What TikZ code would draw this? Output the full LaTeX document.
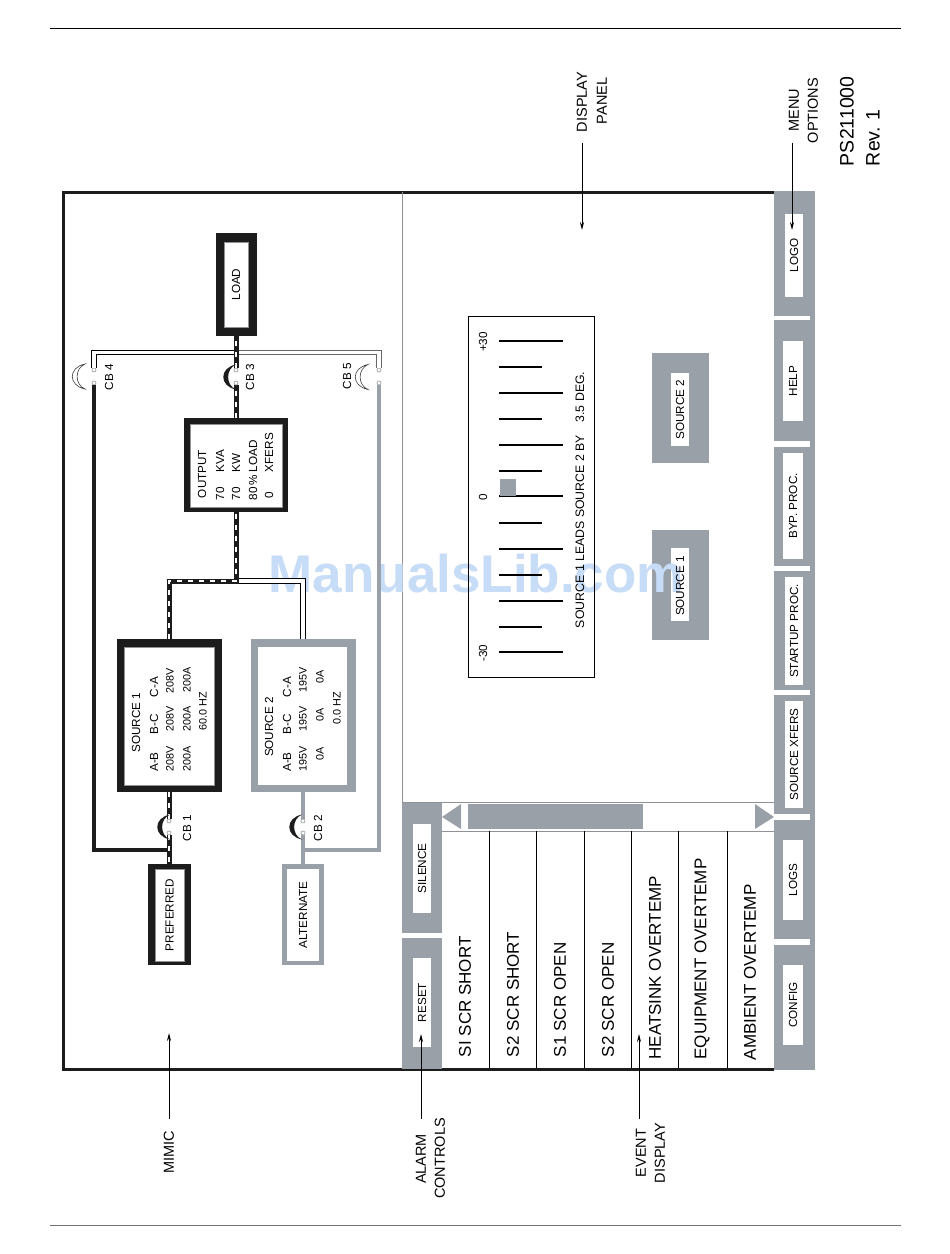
\documentclass[tikz,border=0pt]{standalone}
\usepackage{fontspec}
\setmainfont{Liberation Sans}
\usetikzlibrary{arrows.meta}
\definecolor{panelgray}{HTML}{9AA0A8}
\definecolor{nearblack}{HTML}{1C1C1C}
\definecolor{thingray}{HTML}{8E9297}
\definecolor{wmblue}{HTML}{C7DCF7}
\newcommand\fs[1]{\fontsize{#1}{#1}\selectfont}
% name, style, x0, y0, x1, y1, text: a box given by its corners, its text reading upwards
\newcommand\rectn[7]{%
  \pgfmathsetmacro\rnX{(#3+#5)/2}\pgfmathsetmacro\rnY{(#4+#6)/2}%
  \pgfmathsetmacro\rnH{#5-#3}\pgfmathsetmacro\rnV{#6-#4}%
  \node[rotate=90,inner sep=0pt,outer sep=0pt,minimum width=\rnV pt,minimum height=\rnH pt,#2] (#1) at (\rnX,\rnY) {#7};}
% tip x, centre y, style: a breaker's crescent
\newcommand\crescent[3]{%
  \path[#3] (#1,#2-12.5) .. controls (#1-17,#2-9) and (#1-17,#2+9) .. (#1,#2+12.5)
     .. controls (#1-10.5,#2+8) and (#1-10.5,#2-8) .. cycle;}
\tikzset{
  x=1pt,y=-1pt,
  tx/.style={rotate=90,inner sep=0pt,outer sep=0pt,font=\fs{11.7}},
  dat/.style={tx,font=\fs{10.8}},
  lab/.style={tx,font=\fs{14.5}},
  big/.style={tx,anchor=west,font=\fs{19.5}},
  evt/.style={tx,anchor=west,font=\fs{17}},
  panel/.style={fill=panelgray},
  btn/.style={fill=white,font=\fs{11.7}},
  blackouter/.style={fill=nearblack},
  grayouter/.style={fill=panelgray},
  innerblk/.style={fill=white,draw=thingray,line width=.7pt,font=\fs{11.7}},
  innergry/.style={fill=white,font=\fs{11.7}},
  contact/.style={circle,fill=white,draw=thingray,line width=.6pt,inner sep=0pt,outer sep=0pt,minimum size=4pt},
  bus/.style={line width=5pt,nearblack,postaction={draw,white,line width=2pt,dash pattern=on 5pt off 6pt}},
  blkline/.style={line width=4pt,nearblack},
  gryline/.style={line width=4pt,panelgray},
  dblblk/.style={draw=black,double=white,line width=1.1pt,double distance=3.2pt},
  dblgry/.style={draw=black!60,double=white,line width=1.1pt,double distance=3.2pt},
  closedcb/.style={fill=nearblack},
  opencb/.style={fill=white,draw=black!75,line width=.6pt},
  tick/.style={line width=1.8pt,black},
  pointer/.style={line width=.9pt,black,-{Stealth[length=8pt,width=4pt]}},
  rowline/.style={line width=.9pt,black},
  thin line/.style={line width=.8pt,thingray}
}
\begin{document}
\begin{tikzpicture}
\useasboundingbox[fill=white] (0,0) rectangle (950,1254);
% page rules
\coordinate (ruleTL) at (50,28.3); \coordinate (ruleTR) at (901,28.3);
\coordinate (ruleBL) at (50,1225.5); \coordinate (ruleBR) at (901,1225.5);
\draw[line width=1pt,black] (ruleTL) -- (ruleTR);
\draw[line width=1pt,black!55] (ruleBL) -- (ruleBR);
% frame and panel rules
\draw[line width=3pt,nearblack] (774,192) -- (63,192) -- (63,1069) -- (774,1069);
\draw[thin line] (402,192) -- (402,802) -- (774,802);
\draw[thin line] (442,831) -- (774,831);
% gray buttons
\rectn{strip}{panel}{810}{191}{815}{1070}{}
\rectn{logo}{panel}{774}{191}{812}{316}{}
\rectn{help}{panel}{774}{320}{812}{441}{}
\rectn{byp}{panel}{774}{447}{812}{566}{}
\rectn{startup}{panel}{774}{571}{812}{690}{}
\rectn{xfers}{panel}{774}{695}{812}{814}{}
\rectn{logs}{panel}{774}{820}{812}{939}{}
\rectn{config}{panel}{774}{945}{812}{1070}{}
\rectn{silence}{panel}{402}{803}{442}{933}{}
\rectn{reset}{panel}{402}{938}{442}{1069}{}
\rectn{src2btn}{panel}{652}{353}{709}{463}{}
\rectn{src1btn}{panel}{652}{530}{709}{640}{}
\rectn{src1btnin}{fill=white}{671}{548}{689}{621}{}
% scroll bar
\rectn{thumb}{panel}{468}{804}{643}{829}{}
\fill[panelgray] (442,817) -- (461,804) -- (461,829) -- cycle;
\fill[panelgray] (774,817) -- (755,804) -- (755,829) -- cycle;
% watermark
\node[anchor=base west,inner sep=0pt,font=\fs{53}\bfseries,text=wmblue] (wm) at (268.5,592) {ManualsLib.com};
% button faces
\rectn{logoin}{btn}{785}{214}{803}{297}{LOGO}
\rectn{helpin}{btn}{783}{341}{803}{421}{HELP}
\rectn{bypin}{btn}{783}{453}{803}{559}{BYP. PROC.}
\rectn{startupin}{btn}{785}{577}{803}{685}{STARTUP PROC.}
\rectn{xfersin}{btn}{785}{701}{803}{808}{SOURCE XFERS}
\rectn{logsin}{btn}{783}{840}{803}{920}{LOGS}
\rectn{configin}{btn}{783}{965}{803}{1045}{CONFIG}
\rectn{silencein}{btn}{413}{824}{431}{913}{SILENCE}
\rectn{resetin}{btn}{413}{958}{431}{1047}{RESET}
\rectn{src2btnin}{btn}{671}{373}{689}{446}{SOURCE 2}
\node[tx] (src1btnlab) at (680,586) {SOURCE 1};
% event display
\foreach \rx in {489,536,584,631,678,727}{\draw[rowline] (\rx,831) -- (\rx,1068);}
\node[evt] (ev1) at (465,1057) {SI SCR SHORT};
\node[evt] (ev2) at (513,1057) {S2 SCR SHORT};
\node[evt] (ev3) at (560,1057) {S1 SCR OPEN};
\node[evt] (ev4) at (608,1057) {S2 SCR OPEN};
\node[evt] (ev5) at (655,1059.5) {HEATSINK OVERTEMP};
\node[evt] (ev6) at (702,1059.5) {EQUIPMENT OVERTEMP};
\node[evt] (ev7) at (750,1060) {AMBIENT OVERTEMP};
% phase meter
\draw[line width=1pt,black] (468,316) rectangle (594,677);
\foreach \ty in {341,393,445,496,549,601,652}{\draw[tick] (499,\ty) -- (563,\ty);}
\foreach \ty in {367,419,471,523,575,627}{\draw[tick] (499,\ty) -- (542,\ty);}
\rectn{marker}{panel}{500}{479}{516}{496}{}
\node[tx] (plus30) at (483,342) {+30};
\node[tx] (zero) at (483,497) {0};
\node[tx] (minus30) at (483,653) {-30};
\node[tx,anchor=west,font=\fs{12.3}] (phase) at (580,628) {SOURCE 1 LEADS SOURCE 2 BY\hspace{13pt}3.5 DEG.};
% mimic: boxes
\rectn{load}{blackouter}{215.5}{233}{256.5}{336}{}
\rectn{loadin}{innerblk}{224}{242}{248}{327}{LOAD}
\rectn{output}{blackouter}{184}{418}{288}{512}{}
\rectn{outputin}{innerblk}{190}{424}{282}{507}{}
\node[tx,anchor=west] (ot1) at (202,498) {OUTPUT};
\node[tx,anchor=west] (ot2) at (220,500) {70};
\node[tx,anchor=west] (ot3) at (220,472) {KVA};
\node[tx,anchor=west] (ot4) at (236,500) {70};
\node[tx,anchor=west] (ot5) at (236,472) {KW};
\node[tx,anchor=west] (ot6) at (253,500) {80\,\%};
\node[tx,anchor=west] (ot7) at (253,472) {LOAD};
\node[tx,anchor=west] (ot8) at (269,498) {0};
\node[tx,anchor=west] (ot9) at (269,472) {XFERS};
\rectn{srcA}{blackouter}{116.5}{639}{221.5}{792}{}
\rectn{srcAin}{innerblk}{124}{647}{214}{785}{}
\node[tx] (sa0) at (136,722.5) {SOURCE 1};
\node[tx] (sa1) at (154,762) {A-B};
\node[tx] (sa2) at (154,724) {B-C};
\node[tx] (sa3) at (154,687) {C-A};
\node[dat] (sa4) at (170,759) {208V};
\node[dat] (sa5) at (170,719) {208V};
\node[dat] (sa6) at (170,681) {208V};
\node[dat] (sa7) at (187,759) {200A};
\node[dat] (sa8) at (187,719) {200A};
\node[dat] (sa9) at (187,680) {200A};
\node[dat] (sa10) at (203,711) {60.0 HZ};
\rectn{srcB}{grayouter}{250.5}{639}{355.5}{792}{}
\rectn{srcBin}{innergry}{258}{647}{347}{785}{}
\node[tx] (sb0) at (269,727) {SOURCE 2};
\node[tx] (sb1) at (287,762) {A-B};
\node[tx] (sb2) at (287,724) {B-C};
\node[tx] (sb3) at (287,687) {C-A};
\node[dat] (sb4) at (303,759) {195V};
\node[dat] (sb5) at (303,719) {195V};
\node[dat] (sb6) at (303,680) {195V};
\node[dat] (sb7) at (320,754) {0A};
\node[dat] (sb8) at (320,715) {0A};
\node[dat] (sb9) at (320,677) {0A};
\node[dat] (sb10) at (337,708) {0.0 HZ};
\rectn{pref}{blackouter}{147.5}{864}{190.5}{965}{}
\rectn{prefin}{innerblk}{155}{869}{184}{961}{PREFERRED}
\rectn{alt}{grayouter}{282}{864}{324}{965}{}
\rectn{altin}{innergry}{287}{869}{319}{961}{ALTERNATE}
% mimic: breaker contacts
\node[contact] (c1a) at (169,821) {};
\node[contact] (c1b) at (169,833) {};
\node[contact] (c2a) at (303,821) {};
\node[contact] (c2b) at (303,833) {};
\node[contact] (c3a) at (236,370) {};
\node[contact] (c3b) at (236,383) {};
\node[contact] (c4a) at (94,370) {};
\node[contact] (c4b) at (94,383) {};
\node[contact] (c5a) at (379,370) {};
\node[contact] (c5b) at (379,383) {};
\coordinate (jtop) at (236,352.5);
\coordinate (jbus) at (236,581);
\coordinate (jpref) at (169,850);
\coordinate (jalt) at (303,850);
% mimic: connectors (a rotated box's east is its top edge, its west its bottom edge)
\draw[blkline] (c4b.south) |- (jpref);
\draw[gryline] (c5b.south) |- (jalt);
\draw[dblblk] (c4a.north) |- (jtop);
\draw[dblgry] (c5a.north) |- (jtop);
\draw[dblblk] (jbus) -| (srcB.east);
\draw[bus] (c3a.north) -- (load.west);
\draw[bus] (output.east) -- (c3b.south);
\draw[bus] (srcA.east) |- (jbus) -- (output.west);
\draw[bus] (srcA.west) -- (c1a.north);
\draw[bus] (c1b.south) -- (pref.east);
\draw[gryline] (srcB.west) -- (c2a.north);
\draw[gryline] (c2b.south) -- (alt.east);
% mimic: breaker arcs
\crescent{170}{827}{closedcb}
\crescent{302}{827}{closedcb}
\crescent{236}{377}{closedcb}
\crescent{85}{376.5}{opencb}
\crescent{368}{377}{opencb}
\node[tx] (cb1) at (187,828) {CB 1};
\node[tx] (cb2) at (318,828) {CB 2};
\node[tx] (cb3) at (250,377) {CB 3};
\node[tx] (cb4) at (109,377) {CB 4};
\node[tx] (cb5) at (347,376) {CB 5};
% callouts
\node[lab] (mimic) at (169,1152) {MIMIC};
\node[lab] (alarm1) at (421,1159) {ALARM};
\node[lab] (alarm2) at (440,1158.5) {CONTROLS};
\node[lab] (event1) at (641,1153) {EVENT};
\node[lab] (event2) at (660,1153) {DISPLAY};
\node[lab] (disp1) at (582,102) {DISPLAY};
\node[lab] (disp2) at (602,101) {PANEL};
\node[lab] (menu1) at (794,110) {MENU};
\node[lab] (menu2) at (813,110.5) {OPTIONS};
\node[big] (docno) at (847,166) {PS211000};
\node[big] (rev) at (873,166) {Rev. 1};
\coordinate (aMimicS) at (169,1119); \coordinate (aMimicE) at (169,1033);
\coordinate (aAlarmS) at (421,1119); \coordinate (aAlarmE) at (421,1034);
\coordinate (aEventS) at (639,1119); \coordinate (aEventE) at (639,1034);
\coordinate (aDispS) at (582,143); \coordinate (aDispE) at (582,230);
\coordinate (aMenuS) at (792,143); \coordinate (aMenuE) at (792,230);
\draw[pointer] (aMimicS) -- (aMimicE);
\draw[pointer] (aAlarmS) -- (aAlarmE);
\draw[pointer] (aEventS) -- (aEventE);
\draw[pointer] (aDispS) -- (aDispE);
\draw[pointer] (aMenuS) -- (aMenuE);
\end{tikzpicture}
\end{document}
